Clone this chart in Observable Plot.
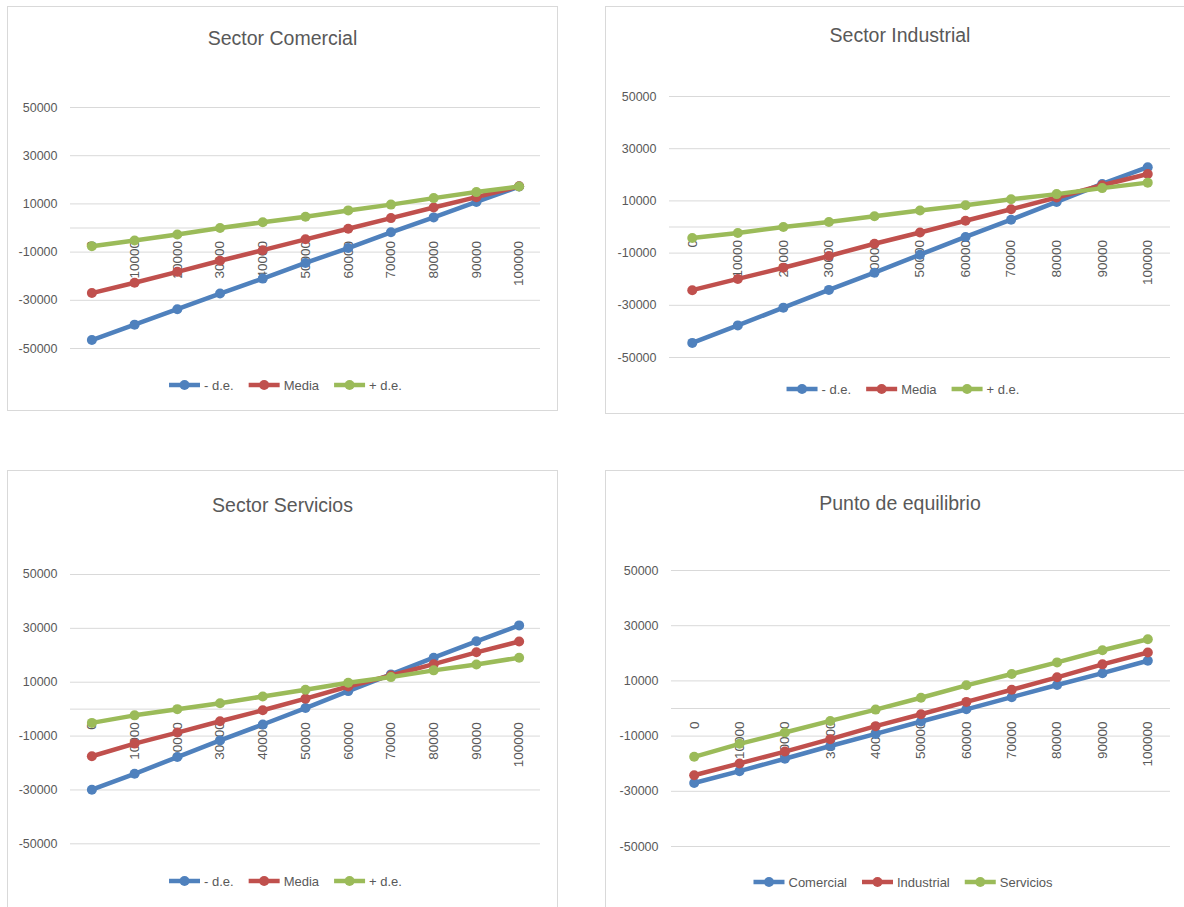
<!DOCTYPE html>
<html>
<head>
<meta charset="utf-8">
<script src="https://cdn.jsdelivr.net/npm/d3@7"></script>
<script src="https://cdn.jsdelivr.net/npm/@observablehq/plot@0.6"></script>
<style>
  body { margin: 0; background: #fff; }
  #page { position: relative; width: 1184px; height: 907px; overflow: hidden; background: #fff;
          font-family: "Liberation Sans", Arial, sans-serif; }
  .frame { position: absolute; box-sizing: border-box; border: 1px solid #d9d9d9; background: #fff; }
</style>
</head>
<body>
<div id="page"></div>
<script>
// ---------- DATA ----------
const categories = [0, 10000, 20000, 30000, 40000, 50000, 60000, 70000, 80000, 90000, 100000];
const yTicks = [-50000, -30000, -10000, 10000, 30000, 50000];

const comercialMenos = [-46500, -40100, -33700, -27200, -21000, -14500, -8300, -1800, 4400, 10800, 17200];
const comercialMedia = [-27000, -22700, -18200, -13600, -9200, -4700, -300, 4100, 8500, 12800, 17300];
const comercialMas   = [-7600, -5200, -2700, 0, 2400, 4700, 7300, 9700, 12400, 14900, 17200];

const industrialMenos = [-44400, -37700, -30900, -24100, -17500, -10600, -3800, 2800, 9600, 16500, 22900];
const industrialMedia = [-24200, -19900, -15600, -11100, -6400, -2100, 2400, 6800, 11300, 16000, 20300];
const industrialMas   = [-4200, -2300, 0, 1900, 4100, 6300, 8300, 10600, 12600, 14900, 17000];

const serviciosMenos = [-29900, -24000, -17800, -11600, -5700, 400, 6700, 12900, 19100, 25200, 31100];
const serviciosMedia = [-17500, -12800, -8700, -4500, -400, 3900, 8400, 12500, 16700, 21100, 25100];
const serviciosMas   = [-5100, -2300, 0, 2200, 4700, 7200, 9800, 11900, 14400, 16600, 19100];

const seriesLabels = ["- d.e.", "Media", "+ d.e."];
const equilibrioLabels = ["Comercial", "Industrial", "Servicios"];

// ---------- STYLE ----------
const BLUE = "#4F81BD", RED = "#C0504D", GREEN = "#9BBB59";
const TEXT = "#595959", GRID = "#d9d9d9";
const FONT = "Liberation Sans, Arial, sans-serif";

const panels = [
  { title: "Sector Comercial", left: 7, top: 6, width: 551, height: 405,
    plotLeft: 70, plotRight: 540, y50: 106.7, yM50: 347.7, titleBase: 45, legendY: 385,
    series: [[seriesLabels[0], comercialMenos, BLUE], [seriesLabels[1], comercialMedia, RED], [seriesLabels[2], comercialMas, GREEN]] },
  { title: "Sector Industrial", left: 605, top: 6, width: 590, height: 408,
    plotLeft: 669, plotRight: 1170, y50: 95.7, yM50: 356.7, titleBase: 42, legendY: 389,
    series: [[seriesLabels[0], industrialMenos, BLUE], [seriesLabels[1], industrialMedia, RED], [seriesLabels[2], industrialMas, GREEN]] },
  { title: "Sector Servicios", left: 7, top: 470, width: 551, height: 460,
    plotLeft: 70, plotRight: 540, y50: 574, yM50: 843.3, titleBase: 512, legendY: 881,
    series: [[seriesLabels[0], serviciosMenos, BLUE], [seriesLabels[1], serviciosMedia, RED], [seriesLabels[2], serviciosMas, GREEN]] },
  { title: "Punto de equilibrio", left: 605, top: 470, width: 590, height: 460,
    plotLeft: 671, plotRight: 1170, y50: 570, yM50: 846, titleBase: 510, legendY: 882,
    series: [[equilibrioLabels[0], comercialMedia, BLUE], [equilibrioLabels[1], industrialMedia, RED], [equilibrioLabels[2], serviciosMedia, GREEN]] }
];

const page = document.getElementById("page");

// frames
for (const p of panels) {
  const f = document.createElement("div");
  f.className = "frame";
  Object.assign(f.style, { left: p.left + "px", top: p.top + "px", width: p.width + "px", height: p.height + "px" });
  page.append(f);
}

// charts
for (const p of panels) {
  const pad = 20;
  const svgTop = p.y50 - pad;
  const svgH = (p.yM50 - p.y50) + 2 * pad;
  const seriesMarks = p.series.flatMap(([name, values, color]) => {
    const rows = categories.map((c, i) => ({ x: c, y: values[i], name }));
    return [
      Plot.line(rows, { x: "x", y: "y", stroke: color, strokeWidth: 4.5, strokeLinejoin: "round", strokeLinecap: "round" }),
      Plot.dot(rows, { x: "x", y: "y", r: 5, fill: color, stroke: null })
    ];
  });
  const chart = Plot.plot({
    width: p.width,
    height: svgH,
    marginLeft: p.plotLeft - p.left,
    marginRight: p.left + p.width - p.plotRight,
    marginTop: pad,
    marginBottom: pad,
    x: { type: "point", domain: categories, padding: 0.5, round: false, axis: null },
    y: { domain: [-50000, 50000], axis: null },
    style: { background: "transparent", overflow: "visible", color: TEXT, fontFamily: FONT },
    marks: [
      Plot.ruleY(yTicks, { stroke: GRID, strokeWidth: 1 }),
      Plot.ruleY([0], { stroke: GRID, strokeWidth: 1 }),
      Plot.axisY({ ticks: yTicks, tickSize: 0, tickPadding: 13, tickFormat: d => String(d), fontSize: 12.5, fill: TEXT, label: null }),
      Plot.text(categories, { x: d => d, y: () => 0, text: d => String(d), rotate: -90, textAnchor: "end",
                              dy: 13, fontSize: 13.5, fill: TEXT }),
      ...seriesMarks
    ]
  });
  chart.style.position = "absolute";
  chart.style.left = p.left + "px";
  chart.style.top = svgTop + "px";
  chart.style.maxWidth = "none";
  page.append(chart);
}

// titles and legends
const overlay = d3.select(page).append("svg")
  .attr("width", 1184).attr("height", 907)
  .style("position", "absolute").style("left", "0px").style("top", "0px")
  .style("pointer-events", "none").style("font-family", FONT);

for (const p of panels) {
  const cx = p.left + p.width / 2;
  overlay.append("text")
    .attr("x", cx).attr("y", p.titleBase)
    .attr("text-anchor", "middle").attr("font-size", 19.5).attr("fill", TEXT)
    .text(p.title);

  const g = overlay.append("g");
  const swatchW = 31, textGap = 4, itemGap = 15;
  let x = 0;
  p.series.forEach(([name, , color], i) => {
    const item = g.append("g").attr("transform", `translate(${x},0)`);
    item.append("line").attr("x1", 0).attr("x2", swatchW).attr("y1", 0).attr("y2", 0)
      .attr("stroke", color).attr("stroke-width", 4.5);
    item.append("circle").attr("cx", swatchW / 2).attr("cy", 0).attr("r", 5).attr("fill", color);
    const t = item.append("text").attr("x", swatchW + textGap).attr("y", 4.6)
      .attr("font-size", 13).attr("fill", TEXT).text(name);
    const w = t.node().getComputedTextLength();
    x += swatchW + textGap + w + (i < p.series.length - 1 ? itemGap : 0);
  });
  g.attr("transform", `translate(${cx - x / 2 + 3},${p.legendY})`);
}
</script>
</body>
</html>
